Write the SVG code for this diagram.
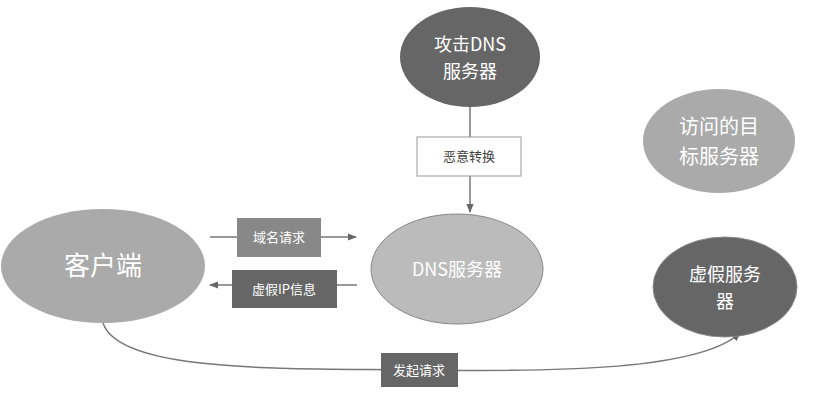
<svg xmlns="http://www.w3.org/2000/svg" width="831" height="408" viewBox="0 0 831 408">
<style>
text{font-family:"Noto Sans CJK SC","Liberation Sans",sans-serif;fill:#fff;text-anchor:middle}
.l{stroke:#777;stroke-width:1.5;fill:none}
.s{font-size:13px}
</style>
<defs><marker id="a" viewBox="0 0 10 10" refX="9" refY="5" markerWidth="6" markerHeight="6" orient="auto"><path d="M0,1L10,5L0,9z" fill="#666"/></marker></defs>
<rect width="831" height="408" fill="#fff"/>
<g id="connectors">
<path class="l" d="M470,107V212" marker-end="url(#a)"/>
<path class="l" d="M210,237H356" marker-end="url(#a)"/>
<path class="l" d="M357,285H210" marker-end="url(#a)"/>
<path class="l" d="M103,323C120,375 300,368 420,370C560,372 700,370 740,333" marker-end="url(#a)"/>
</g>
<g id="attack"><ellipse cx="470" cy="57" rx="70" ry="50" fill="#666"/><text x="470" y="51" font-size="18">攻击DNS</text><text x="470" y="78" font-size="18">服务器</text></g>
<g id="target"><ellipse cx="719" cy="141" rx="76" ry="52" fill="#aaa"/><text x="719" y="134" font-size="20">访问的目</text><text x="719" y="164" font-size="20">标服务器</text></g>
<g id="client"><ellipse cx="103" cy="266" rx="102" ry="57" fill="#aaa"/><text x="103" y="275" font-size="26">客户端</text></g>
<g id="dns"><ellipse cx="457" cy="269" rx="86" ry="55" fill="#bbb" stroke="#888"/><text x="457" y="276" font-size="18">DNS服务器</text></g>
<g id="fake"><ellipse cx="725" cy="287" rx="72" ry="50" fill="#666" stroke="#888"/><text x="725" y="281" font-size="18">虚假服务</text><text x="725" y="308" font-size="18">器</text></g>
<g id="b1"><rect x="417" y="137" width="104" height="39" fill="#fff" stroke="#999"/><text x="469" y="161" class="s" style="fill:#444">恶意转换</text></g>
<g id="b2"><rect x="237" y="218" width="84" height="39" fill="#888"/><text x="279" y="242" class="s">域名请求</text></g>
<g id="b3"><rect x="232" y="270" width="105" height="38" fill="#666"/><text x="284" y="294" class="s">虚假IP信息</text></g>
<g id="b4"><rect x="381" y="353" width="77" height="34" fill="#666"/><text x="419" y="375" class="s">发起请求</text></g>
</svg>
